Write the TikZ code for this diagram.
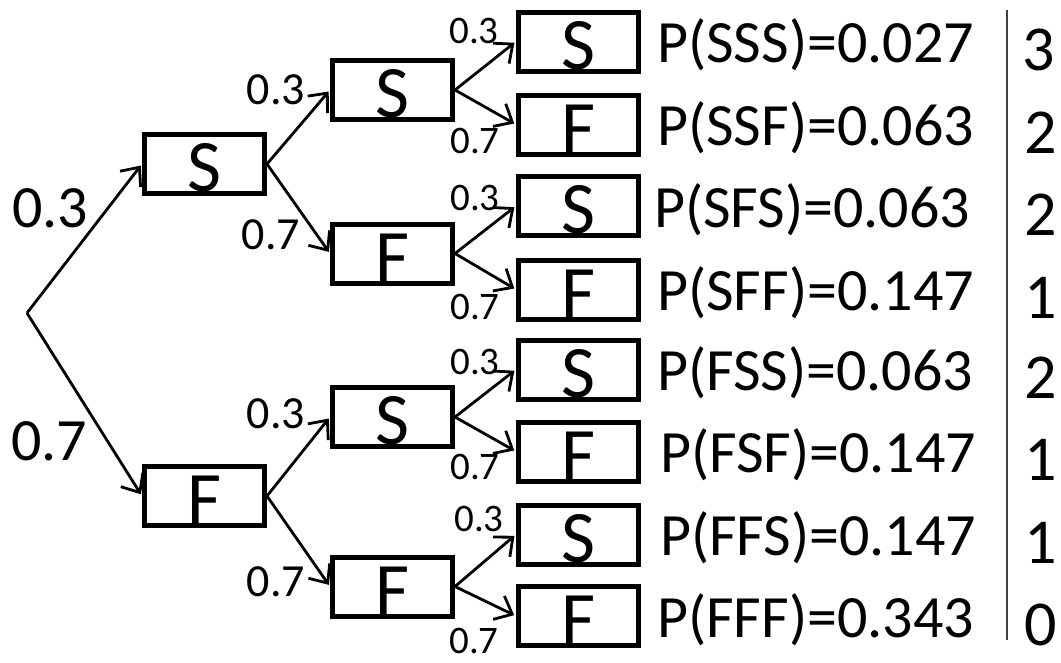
\documentclass[tikz,border=0pt]{standalone}
\usepackage{fontspec}
\setmainfont{Carlito}
\usetikzlibrary{arrows.meta}
\begin{document}
\begin{tikzpicture}[x=1pt,y=-1pt,
  outcome/.style={draw, line width=5pt, minimum width=120pt, minimum height=59pt,
    inner sep=0pt, text height=55pt, text depth=0pt,
    font=\fontsize{74pt}{80pt}\selectfont},
  branch/.style={line width=2.8pt, shorten >=2pt,
    -{Straight Barb[length=15pt,width=26pt]}},
  probbig/.style={inner sep=0pt, font=\fontsize{60pt}{70pt}\selectfont},
  probmid/.style={inner sep=0pt, font=\fontsize{46pt}{52pt}\selectfont},
  probsmall/.style={inner sep=0pt, font=\fontsize{39pt}{44pt}\selectfont},
  result/.style={inner sep=0pt, anchor=base west, font=\fontsize{60pt}{70pt}\selectfont},
  count/.style={inner sep=0pt, anchor=base, font=\fontsize{64pt}{72pt}\selectfont},
]
\useasboundingbox (0,0) rectangle (1061,662);

% root of the tree
\coordinate (r) at (27,313);

% first trial
\node[outcome] (a) at (204.5,164) {S};
\node[outcome] (b) at (204.5,496) {F};

% second trial
\node[outcome] (aa) at (392.5,90)    {S};
\node[outcome] (ab) at (392.5,253.5) {F};
\node[outcome] (ba) at (392.5,417)   {S};
\node[outcome] (bb) at (392.5,586.5) {F};

% third trial
\node[outcome] (aaa) at (578.5,41.5)  {S};
\node[outcome] (aab) at (578.5,124.5) {F};
\node[outcome] (aba) at (578.5,206)   {S};
\node[outcome] (abb) at (578.5,289.5) {F};
\node[outcome] (baa) at (578.5,369.5) {S};
\node[outcome] (bab) at (578.5,451.5) {F};
\node[outcome] (bba) at (578.5,534.5) {S};
\node[outcome] (bbb) at (578.5,616)   {F};

% branches
\draw[branch] (r) -- (a.west);
\draw[branch] (r) -- (b.west);
\foreach \p/\c in {a/aa, a/ab, b/ba, b/bb,
                   aa/aaa, aa/aab, ab/aba, ab/abb,
                   ba/baa, ba/bab, bb/bba, bb/bbb}
  \draw[branch] (\p.east) -- (\c.west);

% branch probabilities
\node[probbig] (l1) at (50,208) {0.3};
\node[probbig] (l2) at (49,441) {0.7};

\node[probmid] (m1) at (276,90)  {0.3};
\node[probmid] (m2) at (271,235) {0.7};
\node[probmid] (m3) at (276,414) {0.3};
\node[probmid] (m4) at (276,582) {0.7};

\node[probsmall] (s1) at (474,30.5) {0.3};
\node[probsmall] (s2) at (475,141)  {0.7};
\node[probsmall] (s3) at (475,198)  {0.3};
\node[probsmall] (s4) at (475,307)  {0.7};
\node[probsmall] (s5) at (475,362)  {0.3};
\node[probsmall] (s6) at (475,467)  {0.7};
\node[probsmall] (s7) at (479,519)  {0.3};
\node[probsmall] (s8) at (474,641)  {0.7};

% outcome probabilities
\node[result] (p1) at (657,62.5)  {P(SSS)=0.027};
\node[result] (p2) at (657,145.5) {P(SSF)=0.063};
\node[result] (p3) at (654,227)   {P(SFS)=0.063};
\node[result] (p4) at (657,310.5) {P(SFF)=0.147};
\node[result] (p5) at (657,390.5) {P(FSS)=0.063};
\node[result] (p6) at (660,472.5) {P(FSF)=0.147};
\node[result] (p7) at (660,555.5) {P(FFS)=0.147};
\node[result] (p8) at (657,637)   {P(FFF)=0.343};

% separator and number of successes
\coordinate (vt) at (1007,10);
\coordinate (vb) at (1007,640);
\draw[line width=1.5pt, black!75] (vt) -- (vb);

\node[count] (c1) at (1039,70.5)  {3};
\node[count] (c2) at (1041,153.5) {2};
\node[count] (c3) at (1041,235)   {2};
\node[count] (c4) at (1041,318.5) {1};
\node[count] (c5) at (1041,398.5) {2};
\node[count] (c6) at (1041,480.5) {1};
\node[count] (c7) at (1041,563.5) {1};
\node[count] (c8) at (1041,645)   {0};
\end{tikzpicture}
\end{document}
